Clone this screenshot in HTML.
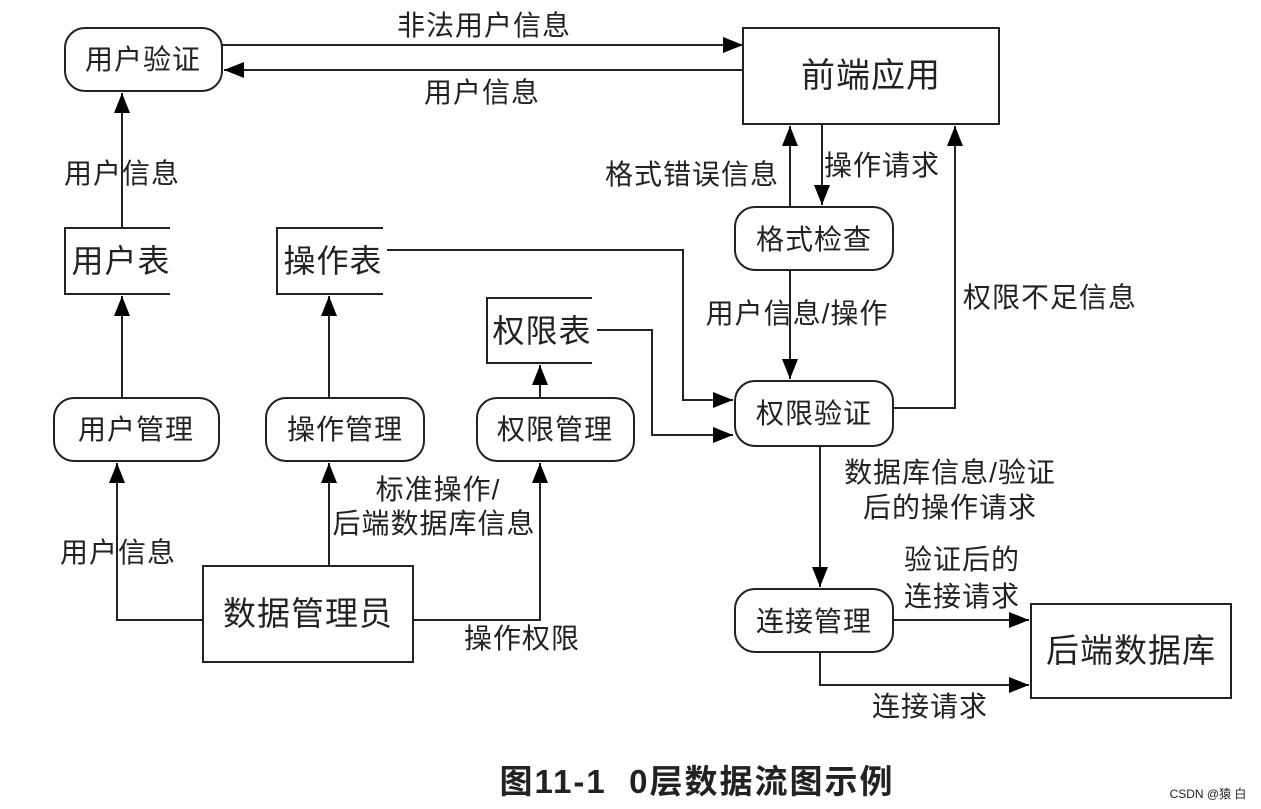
<!DOCTYPE html>
<html><head><meta charset="utf-8"><style>
html,body{margin:0;padding:0;background:#fff}
svg{display:block}
text{font-family:"Liberation Sans","Noto Sans CJK SC",sans-serif;fill:#222;letter-spacing:1px}
</style></head><body>
<svg width="1261" height="809" viewBox="0 0 1261 809" xmlns="http://www.w3.org/2000/svg">
<defs>
<marker id="a" markerWidth="20" markerHeight="16" refX="20" refY="8" orient="auto" markerUnits="userSpaceOnUse">
<path d="M0,0 L20,8 L0,16 Z" fill="#000"/></marker>
</defs>
<g fill="none" stroke="#222" stroke-width="2">
<rect x="65" y="28" width="157" height="63" rx="20"/>
<rect x="743" y="28" width="256" height="96"/>
<rect x="735" y="207" width="158" height="63" rx="20"/>
<rect x="735" y="381" width="158" height="65" rx="20"/>
<rect x="735" y="589" width="158" height="63" rx="20"/>
<rect x="1031" y="604" width="200" height="94"/>
<rect x="203" y="566" width="210" height="96"/>
<rect x="54" y="398" width="165" height="63" rx="20"/>
<rect x="266" y="398" width="158" height="63" rx="20"/>
<rect x="477" y="398" width="157" height="63" rx="20"/>
<path d="M170,228 H65 V294 H170"/>
<path d="M383,228 H277 V294 H383"/>
<path d="M592,298 H487 V363 H592"/>
<path d="M222,45 H743" marker-end="url(#a)"/>
<path d="M743,70 H224" marker-end="url(#a)"/>
<path d="M122,228 V93" marker-end="url(#a)"/>
<path d="M122,398 V296" marker-end="url(#a)"/>
<path d="M329,398 V296" marker-end="url(#a)"/>
<path d="M540,398 V365" marker-end="url(#a)"/>
<path d="M203,620 H117 V463" marker-end="url(#a)"/>
<path d="M329,566 V463" marker-end="url(#a)"/>
<path d="M413,620 H540 V463" marker-end="url(#a)"/>
<path d="M387,250 H683 V400 H733" marker-end="url(#a)"/>
<path d="M597,330 H652 V435 H733" marker-end="url(#a)"/>
<path d="M790,207 V126" marker-end="url(#a)"/>
<path d="M822,124 V205" marker-end="url(#a)"/>
<path d="M790,270 V379" marker-end="url(#a)"/>
<path d="M893,408 H955 V126" marker-end="url(#a)"/>
<path d="M820,446 V587" marker-end="url(#a)"/>
<path d="M893,620 H1029" marker-end="url(#a)"/>
<path d="M820,652 V685 H1029" marker-end="url(#a)"/>
</g>
<g font-size="28" text-anchor="middle">
<text x="143" y="69">用户验证</text>
<text x="871" y="87" font-size="34">前端应用</text>
<text x="814" y="249">格式检查</text>
<text x="814" y="423">权限验证</text>
<text x="814" y="631">连接管理</text>
<text x="1131" y="662" font-size="33">后端数据库</text>
<text x="308" y="625" font-size="33">数据管理员</text>
<text x="136" y="439">用户管理</text>
<text x="345" y="439">操作管理</text>
<text x="555" y="439">权限管理</text>
<text x="121" y="272" font-size="32">用户表</text>
<text x="333" y="272" font-size="32">操作表</text>
<text x="542" y="342" font-size="32">权限表</text>
<text x="484" y="35">非法用户信息</text>
<text x="482" y="102">用户信息</text>
<text x="122" y="183">用户信息</text>
<text x="692" y="184">格式错误信息</text>
<text x="882" y="175">操作请求</text>
<text x="797" y="323">用户信息/操作</text>
<text x="1050" y="307">权限不足信息</text>
<text x="950" y="482">数据库信息/验证</text>
<text x="950" y="517">后的操作请求</text>
<text x="962" y="569">验证后的</text>
<text x="962" y="606">连接请求</text>
<text x="930" y="716">连接请求</text>
<text x="118" y="562">用户信息</text>
<text x="438" y="499">标准操作/</text>
<text x="434" y="533">后端数据库信息</text>
<text x="522" y="648">操作权限</text>
<text x="697" y="793" font-size="33" font-weight="bold" fill="#111" style="letter-spacing:2px" xml:space="preserve">图11-1  0层数据流图示例</text>
<text x="1208" y="798" font-size="12" fill="#888" style="letter-spacing:0">CSDN @猿 白</text>
</g>
</svg>
</body></html>
